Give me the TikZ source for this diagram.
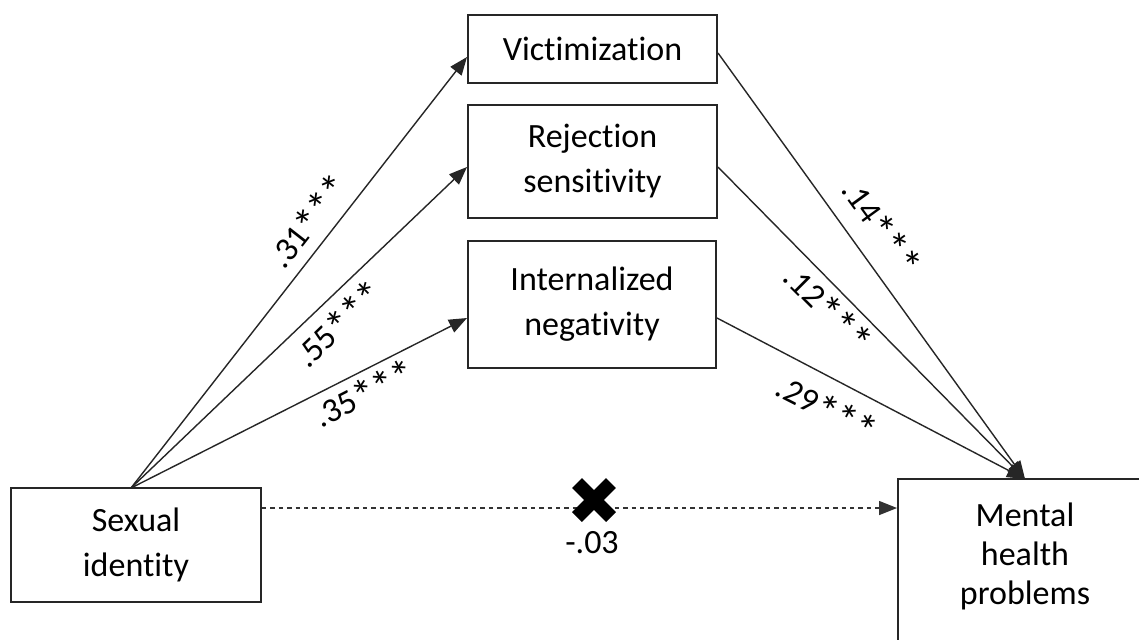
\documentclass[tikz,border=0pt]{standalone}
\usepackage{graphicx}
\usepackage{fontspec}
\setmainfont[Ligatures={NoCommon,NoRequired,NoContextual}]{Carlito}
\usetikzlibrary{arrows.meta}
\newcommand{\sigstars}{\raisebox{-0.35ex}{\scalebox{1.3}{*}}\kern-0.02em\raisebox{-0.35ex}{\scalebox{1.3}{*}}\kern-0.02em\raisebox{-0.35ex}{\scalebox{1.3}{*}}}
\begin{document}
\begin{tikzpicture}[x=0.5pt,y=-0.5pt,
  box/.style={draw=black!85,line width=1pt,rectangle,align=center,inner sep=0pt,
    font=\fontsize{17pt}{22.5pt}\selectfont},
  path/.style={draw=black!85,line width=0.7pt,-{Triangle[length=9pt,width=7pt]}},
  lbl/.style={font=\fontsize{17pt}{20pt}\selectfont,inner sep=0pt}]
\useasboundingbox (0,0) rectangle (1139,639);
\clip (0,0) rectangle (1139,639);
\fill[white] (0,0) rectangle (1139,639);
% nodes
\node[box,minimum width=125pt,minimum height=57pt] (si) at (136,545) {Sexual\\identity};
\node[box,minimum width=124.5pt,minimum height=34pt] (vic) at (592.5,49) {Victimization};
\node[box,minimum width=124.5pt,minimum height=56.5pt] (rej) at (592.5,161.5) {Rejection\\sensitivity};
\node[box,minimum width=124pt,minimum height=63.5pt] (int) at (592,304.5) {Internalized\\negativity};
\node[box,minimum width=131pt,minimum height=90.5pt] (mh) at (1029,569.5) {};
\node[align=center,inner sep=0pt,font=\fontsize{17pt}{19.5pt}\selectfont] (mhtext) at (1025,556) {Mental\\health\\problems};
% connector points
\coordinate (src) at (131,488);
\coordinate (dst) at (1025,479);
% left paths
\draw[path] (src) -- ([yshift=-4pt]vic.west);
\draw[path] (src) -- ([yshift=-2.75pt]rej.west);
\draw[path] (src) -- ([yshift=-6.75pt]int.west);
% right paths
\draw[path] ([yshift=-2pt]vic.east) -- (dst);
\draw[path] ([yshift=-2.75pt]rej.east) -- (dst);
\draw[path] ([yshift=-6.75pt]int.east) -- (dst);
% direct path
\draw[draw=black!80,line width=0.7pt,dash pattern=on 2.2pt off 2pt,-{Triangle[length=9pt,width=7pt]}]
  ([yshift=18.5pt]si.east) -- (mh.west |- 0,508);
% cross mark
\coordinate (xm) at (594,500);
\draw[line width=7pt,black] ([shift={(-17,-17)}]xm) -- ([shift={(17,17)}]xm);
\draw[line width=7pt,black] ([shift={(-17,17)}]xm) -- ([shift={(17,-17)}]xm);
\node[lbl] (c) at (592,543) {-.03};
% labels
\node[lbl,rotate=52] (l1) at (310,222) {.31\sigstars};
\node[lbl,rotate=44] (l2) at (340,325) {.55\sigstars};
\node[lbl,rotate=27] (l3) at (365,395) {.35\sigstars};
\node[lbl,rotate=-54] (r1) at (880,228) {.14\sigstars};
\node[lbl,rotate=-45] (r2) at (827,310) {.12\sigstars};
\node[lbl,rotate=-27] (r3) at (826,410) {.29\sigstars};
\end{tikzpicture}
\end{document}
